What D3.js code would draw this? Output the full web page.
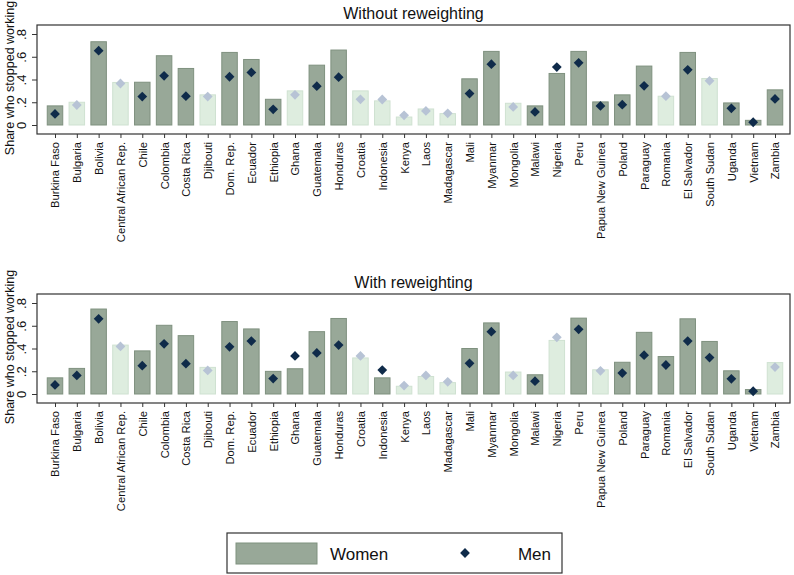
<!DOCTYPE html>
<html>
<head>
<meta charset="utf-8">
<script src="https://cdn.jsdelivr.net/npm/d3@7"></script>
<style>
  body { margin: 0; background: #fff; }
  text { font-family: "Liberation Sans", Arial, sans-serif; fill: #111; }
</style>
</head>
<body>
<svg id="chart" width="794" height="575"></svg>
<script>
const countries = ["Burkina Faso", "Bulgaria", "Bolivia", "Central African Rep.", "Chile", "Colombia",
  "Costa Rica", "Djibouti", "Dom. Rep.", "Ecuador", "Ethiopia", "Ghana", "Guatemala", "Honduras",
  "Croatia", "Indonesia", "Kenya", "Laos", "Madagascar", "Mali", "Myanmar", "Mongolia", "Malawi",
  "Nigeria", "Peru", "Papua New Guinea", "Poland", "Paraguay", "Romania", "El Salvador",
  "South Sudan", "Uganda", "Vietnam", "Zambia"];

// without reweighting
const women1 = [0.168, 0.20, 0.732, 0.374, 0.376, 0.609, 0.497, 0.265, 0.638, 0.576, 0.226, 0.30,
  0.526, 0.659, 0.30, 0.212, 0.07, 0.141, 0.10, 0.406, 0.647, 0.191, 0.168, 0.453, 0.647, 0.203,
  0.265, 0.518, 0.253, 0.638, 0.409, 0.194, 0.041, 0.309];
const men1 = [0.097, 0.176, 0.653, 0.365, 0.25, 0.432, 0.253, 0.25, 0.424, 0.462, 0.138, 0.265,
  0.341, 0.42, 0.226, 0.224, 0.085, 0.124, 0.103, 0.276, 0.535, 0.159, 0.115, 0.509, 0.547, 0.168,
  0.179, 0.344, 0.253, 0.485, 0.388, 0.147, 0.024, 0.229];
const sig1 = [1, 0, 1, 0, 1, 1, 1, 0, 1, 1, 1, 0, 1, 1, 0, 0, 0, 0, 0, 1, 1, 0, 1, 1, 1, 1, 1, 1, 0, 1, 0, 1, 1, 1];

// with reweighting
const women2 = [0.142, 0.225, 0.747, 0.43, 0.379, 0.604, 0.513, 0.234, 0.637, 0.572, 0.199, 0.222,
  0.548, 0.664, 0.317, 0.142, 0.068, 0.154, 0.10, 0.40, 0.625, 0.193, 0.169, 0.471, 0.667, 0.213,
  0.279, 0.542, 0.329, 0.661, 0.462, 0.204, 0.039, 0.276];
const men2 = [0.08, 0.163, 0.661, 0.418, 0.249, 0.441, 0.267, 0.207, 0.415, 0.465, 0.136, 0.335,
  0.361, 0.43, 0.335, 0.21, 0.074, 0.163, 0.107, 0.27, 0.548, 0.163, 0.113, 0.498, 0.569, 0.204,
  0.184, 0.341, 0.255, 0.465, 0.32, 0.133, 0.024, 0.237];
const sig2 = [1, 1, 1, 0, 1, 1, 1, 0, 1, 1, 1, 1, 1, 1, 0, 1, 0, 0, 0, 1, 1, 0, 1, 0, 1, 0, 1, 1, 1, 1, 1, 1, 1, 0];

const yTicks = [0, 0.2, 0.4, 0.6, 0.8];
const yTickLabels = ["0", ".2", ".4", ".6", ".8"];

const colors = {
  barDark: "#98a898", barDarkStroke: "#7f917f",
  barLight: "#deeddf", barLightStroke: "#cfe1d1",
  menDark: "#0f2b4a", menLight: "#b7c3d5"
};

const svg = d3.select("#chart");
const left = 37, right = 790;

const x = d3.scalePoint().domain(countries).range([55, 775]);
const barW = 15.5;

function panel(top, title, women, men, sig) {
  const boxTop = top, boxBottom = top + 109;
  const y = d3.scaleLinear().domain([0, 0.8]).range([top + 100, top + 9]);
  const g = svg.append("g");

  g.append("text")
    .attr("x", (left + right) / 2).attr("y", top - 6)
    .attr("text-anchor", "middle").style("font-size", "16px")
    .text(title);

  // bars
  g.selectAll("rect.bar").data(countries).join("rect")
    .attr("class", "bar")
    .attr("x", d => x(d) - barW / 2)
    .attr("width", barW)
    .attr("y", (d, i) => y(women[i]))
    .attr("height", (d, i) => y(0) - y(women[i]))
    .attr("fill", (d, i) => sig[i] ? colors.barDark : colors.barLight)
    .attr("stroke", (d, i) => sig[i] ? colors.barDarkStroke : colors.barLightStroke)
    .attr("stroke-width", 1);

  // men diamonds
  const diamond = d3.symbol().type(d3.symbolSquare).size(48);
  g.selectAll("path.men").data(countries).join("path")
    .attr("class", "men")
    .attr("d", diamond)
    .attr("transform", (d, i) => `translate(${x(d)},${y(men[i])}) rotate(45)`)
    .attr("fill", (d, i) => sig[i] ? colors.menDark : colors.menLight);

  // frame
  g.append("rect")
    .attr("x", left).attr("y", boxTop)
    .attr("width", right - left).attr("height", boxBottom - boxTop)
    .attr("fill", "none").attr("stroke", "#333").attr("stroke-width", 1.2);

  // y axis
  const yAxis = g.append("g").attr("transform", `translate(${left},0)`)
    .call(d3.axisLeft(y).tickValues(yTicks).tickSize(5)
      .tickFormat((d, i) => yTickLabels[i]));
  yAxis.select(".domain").remove();
  yAxis.selectAll(".tick line").attr("stroke", "#333");
  yAxis.selectAll(".tick text")
    .attr("x", 0).attr("y", 0)
    .attr("transform", "translate(-11,0) rotate(-90)")
    .attr("text-anchor", "middle")
    .attr("dy", "0")
    .style("font-size", "13px")
    .style("font-family", "Liberation Sans, Arial, sans-serif")
    .attr("fill", "#111");

  g.append("text")
    .attr("transform", `translate(14,${top + 53}) rotate(-90)`)
    .attr("text-anchor", "middle")
    .style("font-size", "12.5px")
    .text("Share who stopped working");

  // x axis
  const xAxis = g.append("g").attr("transform", `translate(0,${boxBottom})`)
    .call(d3.axisBottom(x).tickSize(4));
  xAxis.select(".domain").remove();
  xAxis.selectAll(".tick line").attr("stroke", "#333");
  xAxis.selectAll(".tick text")
    .attr("x", 0).attr("y", 0).attr("dy", "0.35em")
    .attr("transform", "translate(0,8) rotate(-90)")
    .attr("text-anchor", "end")
    .style("font-size", "11.2px")
    .style("font-family", "Liberation Sans, Arial, sans-serif")
    .attr("fill", "#111");
}

panel(25, "Without reweighting", women1, men1, sig1);
panel(294, "With reweighting", women2, men2, sig2);

// legend
const lg = svg.append("g");
lg.append("rect").attr("x", 227).attr("y", 533).attr("width", 335).attr("height", 40)
  .attr("fill", "#fff").attr("stroke", "#333").attr("stroke-width", 1.2);
lg.append("rect").attr("x", 236).attr("y", 543).attr("width", 81).attr("height", 21)
  .attr("fill", colors.barDark).attr("stroke", colors.barDarkStroke);
lg.append("text").attr("x", 330).attr("y", 560).style("font-size", "17px").text("Women");
lg.append("path").attr("d", d3.symbol().type(d3.symbolSquare).size(48))
  .attr("transform", "translate(465,553) rotate(45)").attr("fill", colors.menDark);
lg.append("text").attr("x", 551).attr("y", 560).attr("text-anchor", "end")
  .style("font-size", "17px").text("Men");
</script>
</body>
</html>
